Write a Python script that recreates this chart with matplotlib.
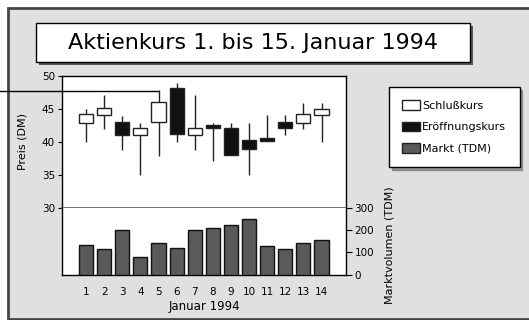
import matplotlib.pyplot as plt
from matplotlib.patches import Rectangle, Patch
from matplotlib.lines import Line2D
import numpy as np

plt.rcParams['font.family'] = ['DejaVu Sans']

# Kursdaten 1. bis 15. Januar 1994
tage = list(range(1, 15))
eroeffnung = [42.9, 44.1, 43.0, 41.0, 43.0, 48.1, 41.0, 42.6, 42.0, 40.2, 40.5, 43.0, 42.9, 44.1]
hoch = [45.0, 47.1, 43.9, 42.9, 47.9, 48.9, 47.1, 42.9, 42.9, 42.9, 44.0, 44.0, 45.9, 45.9]
tief = [40.0, 41.9, 38.8, 34.9, 37.9, 40.0, 38.8, 37.0, 38.0, 34.9, 40.1, 41.0, 41.9, 40.0]
schluss = [44.2, 45.1, 41.0, 42.0, 46.0, 41.1, 42.0, 42.0, 38.0, 38.9, 40.1, 42.0, 44.2, 45.0]
volumen = [131, 114, 199, 79, 142, 119, 200, 209, 222, 249, 130, 114, 142, 154]

W, H = 529, 320
fig = plt.figure(figsize=(W / 100, H / 100), dpi=100)
fig.patch.set_facecolor('white')


def px(x0, y0, x1, y1):
    # pixel box (top-left origin) -> figure fraction rect
    return [x0 / W, 1 - y1 / H, (x1 - x0) / W, (y1 - y0) / H]


# grauer Rahmen
fig.add_artist(Rectangle((8 / W, 1 - 319 / H), 1.0, 311 / H, transform=fig.transFigure,
                         facecolor='#e0e0e0', edgecolor='#454545', lw=2, zorder=0))

# Titelkasten mit Schatten
fig.add_artist(Rectangle((39 / W, 1 - 65 / H), 434 / W, 39 / H, transform=fig.transFigure,
                         facecolor='#555555', edgecolor='none', zorder=1))
fig.add_artist(Rectangle((36 / W, 1 - 62 / H), 434 / W, 39 / H, transform=fig.transFigure,
                         facecolor='white', edgecolor='black', lw=1, zorder=2))
fig.text(253 / W, 1 - 43 / H, 'Aktienkurs 1. bis 15. Januar 1994', ha='center', va='center',
         fontsize=16, zorder=3)

ax = fig.add_axes(px(62, 75.7, 346, 207.7))
ax2 = fig.add_axes(px(62, 207.7, 346, 274.7), sharex=ax)

x = np.array(tage)
o = np.array(eroeffnung)
c = np.array(schluss)
up = c >= o
ax.vlines(x, tief, hoch, color='#222222', lw=1, zorder=2)
ax.bar(x, np.abs(c - o), bottom=np.minimum(o, c), width=0.78,
       color=np.where(up, 'white', '#111111'), edgecolor='#222222', lw=1, zorder=3)
ax.set_ylim(30, 50)
ax.set_yticks([30, 35, 40, 45, 50])
ax.set_xlim(1 - 1.33, 14 + 1.35)
ax.tick_params(axis='y', labelsize=7.5, length=3, width=0.8, pad=2)
ax.tick_params(axis='x', bottom=False, labelbottom=False)
for s in ['top', 'left', 'right']:
    ax.spines[s].set_linewidth(1)
ax.spines['bottom'].set_color('#555555')
ax.spines['bottom'].set_linewidth(1.2)
ax.set_ylabel('Preis (DM)', fontsize=8)
ax.yaxis.set_label_coords(-0.12, 0.5)

ax2.bar(x, volumen, width=0.78, color='#5a5a5a', edgecolor='#111111', lw=1, zorder=3)
ax2.set_ylim(0, 300)
ax2.set_yticks([0, 100, 200, 300])
ax2.yaxis.tick_right()
ax2.yaxis.set_label_position('right')
ax2.tick_params(axis='y', labelsize=7.5, length=4, width=0.8, pad=2)
ax2.set_xticks(x)
ax2.tick_params(axis='x', length=0, labelsize=7.5, pad=9)
ax2.spines['top'].set_visible(False)
for s in ['left', 'right', 'bottom']:
    ax2.spines[s].set_linewidth(1)
ax2.set_xlabel('Januar 1994', fontsize=8.5, labelpad=2)
fig.text(390 / W, 1 - 245 / H, 'Marktvolumen (TDM)', rotation=90, ha='center', va='center',
         fontsize=8)

# Linie links oben
fig.add_artist(Line2D([0, 158 / W], [1 - 91 / H, 1 - 91 / H], transform=fig.transFigure,
                      color='black', lw=1, zorder=5))

handles = [Patch(facecolor='white', edgecolor='#222222', label='Schlußkurs'),
           Patch(facecolor='#111111', edgecolor='#222222', label='Eröffnungskurs'),
           Patch(facecolor='#5a5a5a', edgecolor='#222222', label='Markt (TDM)')]
leg = fig.legend(handles=handles, loc='upper left', bbox_to_anchor=(389 / W, 1 - 87 / H),
                 fontsize=8, frameon=True, fancybox=False, shadow={'color': '#555555'},
                 handlelength=1.6, handleheight=0.9, handletextpad=0.2, borderpad=1.2,
                 labelspacing=1.0, borderaxespad=0)
leg.get_frame().set_edgecolor('black')
leg.get_frame().set_linewidth(1)

fig.savefig('out.png', dpi=100, facecolor=fig.get_facecolor())
